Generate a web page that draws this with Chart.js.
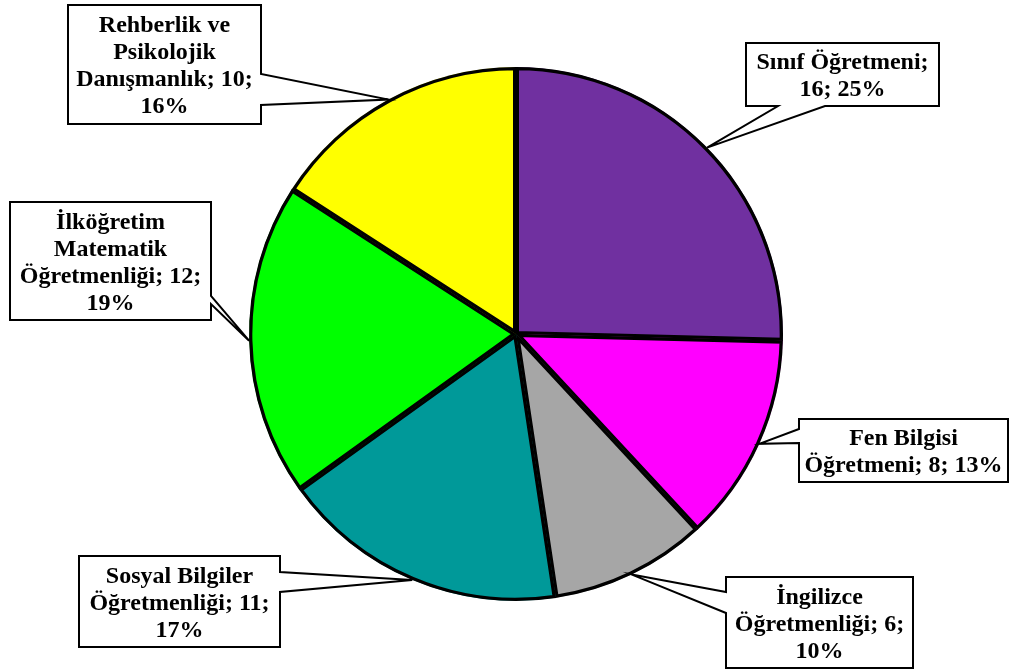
<!DOCTYPE html>
<html>
<head>
<meta charset="utf-8">
<script src="https://cdn.jsdelivr.net/npm/chart.js@4"></script>
<style>
  body { margin: 0; background: #fff; }
  #wrap { width: 1011px; height: 671px; position: relative; }
</style>
</head>
<body>
<div id="wrap"><canvas id="pie"></canvas></div>
<script>
// dağılım verisi
const bolumler = [
    'Sınıf Öğretmeni',
    'Fen Bilgisi Öğretmeni',
    'İngilizce Öğretmenliği',
    'Sosyal Bilgiler Öğretmenliği',
    'İlköğretim Matematik Öğretmenliği',
    'Rehberlik ve Psikolojik Danışmanlık'
];
const sayilar = [16, 8, 6, 11, 12, 10];
const renkler = ['#7030A0', '#FF00FF', '#A6A6A6', '#009999', '#00FF00', '#FFFF00'];

// etiket kutuları: x, y, genişlik, yükseklik, çıkıntının olduğu kenar, kenardaki iki nokta
const kutular = [
    { x: 746, y: 43, w: 193, h: 63, kenar: 'bottom', a: 825, b: 778 },
    { x: 799, y: 419, w: 209, h: 63, kenar: 'left', a: 443, b: 429 },
    { x: 726, y: 577, w: 187, h: 91, kenar: 'left', a: 613, b: 592 },
    { x: 79, y: 556, w: 201, h: 91, kenar: 'right', a: 572, b: 592 },
    { x: 10, y: 202, w: 201, h: 118, kenar: 'right', a: 296, b: 304 },
    { x: 68, y: 5, w: 193, h: 119, kenar: 'right', a: 74, b: 105 }
];

const toplam = sayilar.reduce((s, v) => s + v, 0);
const FONT = 'bold 24px "Liberation Serif", "Times New Roman", serif';
const SATIR = 27;

function satirlaraBol(ctx, metin, maxW) {
    const kelimeler = metin.split(' ');
    const satirlar = [];
    let sat = '';
    kelimeler.forEach(k => {
        const dene = sat ? sat + ' ' + k : k;
        if (sat && ctx.measureText(dene).width > maxW) {
            satirlar.push(sat);
            sat = k;
        } else {
            sat = dene;
        }
    });
    if (sat) satirlar.push(sat);
    return satirlar;
}

/* kutu + ok ucu şeklini çiz */
function kutuYolu(ctx, k, uc) {
    const L = k.x, T = k.y, R = k.x + k.w, B = k.y + k.h;
    ctx.beginPath();
    ctx.moveTo(L, T);
    if (k.kenar === 'top') { ctx.lineTo(k.a, T); ctx.lineTo(uc.x, uc.y); ctx.lineTo(k.b, T); }
    ctx.lineTo(R, T);
    if (k.kenar === 'right') { ctx.lineTo(R, k.a); ctx.lineTo(uc.x, uc.y); ctx.lineTo(R, k.b); }
    ctx.lineTo(R, B);
    if (k.kenar === 'bottom') { ctx.lineTo(k.a, B); ctx.lineTo(uc.x, uc.y); ctx.lineTo(k.b, B); }
    ctx.lineTo(L, B);
    if (k.kenar === 'left') { ctx.lineTo(L, k.a); ctx.lineTo(uc.x, uc.y); ctx.lineTo(L, k.b); }
    ctx.closePath();
}

const etiketler = {
    id: 'etiketler',
    afterDraw(chart) {
        const ctx = chart.ctx;
        const meta = chart.getDatasetMeta(0);
        ctx.save();
        ctx.font = FONT;
        meta.data.forEach((arc, i) => {
            const p = arc.getProps(['x', 'y', 'startAngle', 'endAngle', 'outerRadius'], true);
            const orta = (p.startAngle + p.endAngle) / 2;
            const uc = { x: p.x + Math.cos(orta) * p.outerRadius, y: p.y + Math.sin(orta) * p.outerRadius };
            const k = kutular[i];

            kutuYolu(ctx, k, uc);
            ctx.fillStyle = '#fff';
            ctx.fill();
            ctx.lineWidth = 2;
            ctx.strokeStyle = '#000';
            ctx.lineJoin = 'miter';
            ctx.stroke();

            const yuzde = Math.round(sayilar[i] / toplam * 100);
            const metin = bolumler[i] + '; ' + sayilar[i] + '; ' + yuzde + '%';
            const satirlar = satirlaraBol(ctx, metin, k.w - 8);
            ctx.fillStyle = '#000';
            ctx.textAlign = 'center';
            ctx.textBaseline = 'middle';
            const cx = k.x + k.w / 2;
            const y0 = k.y + k.h / 2 - (satirlar.length - 1) * SATIR / 2 + 2;
            satirlar.forEach((s, j) => ctx.fillText(s, cx, y0 + j * SATIR));
        });
        ctx.restore();
    }
};

const ctx = document.getElementById('pie');

const data = {
    labels: bolumler,
    datasets: [{
        data: sayilar,
        backgroundColor: renkler,
        borderColor: '#000',
        borderWidth: 3,
        borderAlign: 'inner',
        hoverOffset: 0
    }]
};

const config = {
    type: 'pie',
    data: data,
    options: {
        responsive: true,
        maintainAspectRatio: false,
        animation: false,
        radius: 267,
        layout: { padding: { left: 21, right: 0, top: 0, bottom: 3 } },
        plugins: {
            legend: { display: false },
            tooltip: { enabled: false }
        },
        events: []
    },
    plugins: [etiketler]
};

const myChart = new Chart(ctx, config);
</script>
</body>
</html>
